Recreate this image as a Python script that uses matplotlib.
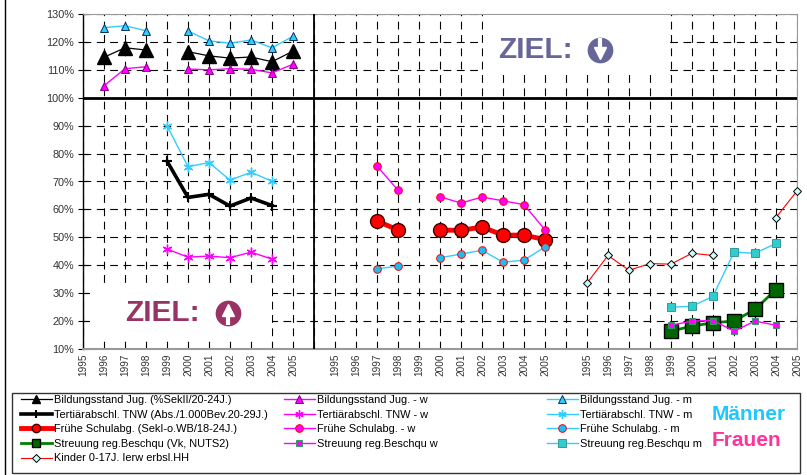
import numpy as np
import matplotlib

matplotlib.use("Agg")
import matplotlib.pyplot as plt
from matplotlib.lines import Line2D
from matplotlib.patches import Rectangle

plt.rcParams["font.family"] = ["Liberation Sans", "DejaVu Sans"]

nan = np.nan

# ---------------------------------------------------------------------------
# data (percent); three blocks of 1995..2005 side by side
# ---------------------------------------------------------------------------
YEARS = list(range(1995, 2006))
BLOCK_START = [0, 12, 24]          # category index of 1995 in each block
N_CAT = 35

# block 1 – Bildungsstand / Tertiärabschluss
bildung = [nan, 114.5, 117.9, 117.1, nan, 116.5, 115.0, 114.2, 114.6, 112.9, 116.7]
bildung_w = [nan, 104.3, 110.4, 111.1, nan, 110.3, 110.0, 110.4, 110.2, 108.9, 112.0]
bildung_m = [nan, 125.1, 125.8, 124.0, nan, 123.9, 120.4, 119.5, 120.7, 117.9, 122.0]
tertiaer = [nan, nan, nan, nan, 77.3, 64.3, 65.4, 61.2, 64.1, 61.4, nan]
tertiaer_w = [nan, nan, nan, nan, 45.8, 42.9, 43.3, 42.7, 44.7, 42.2, nan]
tertiaer_m = [nan, nan, nan, nan, 90.0, 75.3, 76.8, 70.5, 73.3, 70.1, nan]

# block 2 – frühe Schulabgänger
frueh = [nan, nan, 55.9, 52.6, nan, 52.6, 52.5, 53.7, 50.8, 50.8, 49.2]
frueh_w = [nan, nan, 75.5, 66.9, nan, 64.5, 62.3, 64.4, 63.1, 61.7, 52.7]
frueh_m = [nan, nan, 38.7, 39.7, nan, 42.7, 44.0, 45.4, 41.1, 41.8, 46.6]

# block 3 – Streuung / Kinder
kinder = [33.6, 43.5, 38.2, 40.6, 40.4, 44.3, 43.5, nan, nan, 57.1, 66.6]
streuung = [nan, nan, nan, nan, 16.4, 18.2, 19.4, 20.0, 24.2, 31.3, nan]
streuung_w = [nan, nan, nan, nan, 18.5, 20.0, 20.2, 16.4, 20.0, 18.5, nan]
streuung_m = [nan, nan, nan, nan, 25.0, 25.3, 28.9, 44.7, 44.3, 47.8, nan]

Y_TICKS = list(range(10, 140, 10))

BLACK = "#000000"
MAG = "#FF00FF"
CYAN = "#33CCFF"
RED = "#FF0000"
GREEN = "#008000"
STAR = (6, 2, 0)

# (values, block, legend label, line style kwargs)
SERIES = [
    (bildung, 0, "Bildungsstand Jug. (%SekII/20-24J.)",
     dict(color=BLACK, lw=0.9, marker="^", ms=10, mfc=BLACK, mec=BLACK)),
    (tertiaer, 0, "Tertiärabschl. TNW (Abs./1.000Bev.20-29J.)",
     dict(color=BLACK, lw=2.6, marker="+", ms=7, mew=1.5, mec=BLACK)),
    (frueh, 1, "Frühe Schulabg. (SekI-o.WB/18-24J.)",
     dict(color=RED, lw=3.5, marker="o", ms=10, mfc=RED, mec="#400000")),
    (streuung, 2, "Streuung reg.Beschqu (Vk, NUTS2)",
     dict(color=GREEN, lw=2, marker="s", ms=10, mfc="#006600", mec=BLACK)),
    (kinder, 2, "Kinder 0-17J. Ierw erbsl.HH",
     dict(color=RED, lw=0.8, marker="D", ms=4, mfc="#CCFFFF", mec=BLACK, mew=0.7)),
    (bildung_w, 0, "Bildungsstand Jug. - w",
     dict(color=MAG, lw=1, marker="^", ms=5.5, mfc=MAG, mec="#800080", mew=0.7)),
    (tertiaer_w, 0, "Tertiärabschl. TNW - w",
     dict(color=MAG, lw=1, marker=STAR, ms=7, mec=MAG, mew=1)),
    (frueh_w, 1, "Frühe Schulabg. - w",
     dict(color=MAG, lw=1, marker="o", ms=5.5, mfc=MAG, mec=RED, mew=0.7)),
    (streuung_w, 2, "Streuung reg.Beschqu w",
     dict(color=MAG, lw=1, marker="s", ms=5, mfc=MAG, mec="#339966", mew=0.7)),
    (bildung_m, 0, "Bildungsstand Jug. - m",
     dict(color=CYAN, lw=1, marker="^", ms=5.5, mfc=CYAN, mec="#003366", mew=0.7)),
    (tertiaer_m, 0, "Tertiärabschl. TNW - m",
     dict(color=CYAN, lw=1, marker=STAR, ms=7, mec=CYAN, mew=1)),
    (frueh_m, 1, "Frühe Schulabg. - m",
     dict(color=CYAN, lw=1, marker="o", ms=5.5, mfc="#22BBEE", mec=RED, mew=0.7)),
    (streuung_m, 2, "Streuung reg.Beschqu m",
     dict(color=CYAN, lw=1, marker="s", ms=6, mfc="#33CCCC", mec="#339999", mew=0.7)),
]

# draw order as in the original (green squares under the thin series)
DRAW_ORDER = [0, 5, 9, 1, 6, 10, 2, 7, 11, 3, 8, 12, 4]

W, H = 807, 475
fig = plt.figure(figsize=(W / 100, H / 100), dpi=100, facecolor="white")


def fx(px):
    return px / W


def fy(py):
    return 1 - py / H


left, right, top, bottom = 83, 797, 14, 349
ax = fig.add_axes([fx(left), fy(bottom), fx(right - left), (bottom - top) / H])

xs_block = np.arange(len(YEARS))
for i in DRAW_ORDER:
    vals, blk, label, style = SERIES[i]
    ax.plot(BLOCK_START[blk] + xs_block, vals, zorder=4, clip_on=False, **style)

ax.set_xlim(0, N_CAT - 1)
ax.set_ylim(10, 130)

xticks = np.arange(N_CAT)
xlabels = [""] * N_CAT
for start in BLOCK_START:
    for k, yr in enumerate(YEARS):
        xlabels[start + k] = str(yr)
ax.set_xticks(xticks)
ax.set_xticklabels(xlabels, rotation=90, fontsize=7.2, color="#333333")
ax.set_yticks(Y_TICKS)
ax.set_yticklabels([f"{v}%" for v in Y_TICKS], fontsize=7.8, color="#333333")
ax.tick_params(axis="x", length=0, pad=3)
ax.tick_params(axis="y", direction="inout", length=7, width=0.8, pad=3)

ax.set_axisbelow(True)
ax.grid(True, color=BLACK, lw=0.8, ls=(0, (7, 5)))
ax.axhline(100, color=BLACK, lw=2, zorder=3)
ax.axvline(11, color=BLACK, lw=1.3, zorder=3)

for side in ("top", "right", "bottom"):
    ax.spines[side].set_color("#999999")
ax.spines["bottom"].set_linewidth(1.5)
ax.spines["left"].set_color(BLACK)
ax.spines["left"].set_linewidth(1)

# ---------------------------------------------------------------------------
# "ZIEL" boxes (white patches hide the grid)
# ---------------------------------------------------------------------------
def white_box(x0, y0, x1, y1):
    fig.add_artist(Rectangle((fx(x0), fy(y1)), fx(x1 - x0), (y1 - y0) / H,
                             transform=fig.transFigure, facecolor="white",
                             edgecolor="none", zorder=2))


def ziel(x_text, cx, cy, color, up):
    fig.text(fx(x_text), fy(cy), "ZIEL:", fontsize=21.5, fontweight="bold",
             color=color, ha="left", va="center", zorder=3)
    fig.add_artist(Line2D([fx(cx)], [fy(cy)], marker="o", ms=17.5, color=color,
                          mec=color, transform=fig.transFigure, zorder=3))
    sgn = -1 if up else 1
    fig.add_artist(Line2D([fx(cx), fx(cx)], [fy(cy), fy(cy - sgn * 12)],
                          color="white", lw=3, solid_capstyle="butt",
                          transform=fig.transFigure, zorder=4))
    fig.add_artist(Line2D([fx(cx)], [fy(cy + sgn * 3)], marker="^" if up else "v",
                          ms=8, color="white", mec="white",
                          transform=fig.transFigure, zorder=4))


white_box(90, 283, 272, 337)
white_box(483, 15.5, 667, 72)
ziel(125, 228, 313, "#993366", up=True)
ziel(498, 600, 50, "#666699", up=False)

# ---------------------------------------------------------------------------
# legend: three columns inside one frame + Männer / Frauen
# ---------------------------------------------------------------------------
fig.add_artist(Rectangle((fx(12), fy(473)), fx(800 - 12), (473 - 393) / H,
                         transform=fig.transFigure, facecolor="white",
                         edgecolor="#333333", lw=1, zorder=1))
fig.add_artist(Line2D([fx(5), fx(5)], [0, 1], color=BLACK, lw=1,
                      transform=fig.transFigure))

columns = [(21, SERIES[0:5]), (284, SERIES[5:9]), (547, SERIES[9:13])]
for x0, entries in columns:
    handles = []
    for vals, blk, label, style in entries:
        st = dict(style)
        st["ms"] = min(st.get("ms", 5), 6)
        handles.append(Line2D([], [], **st))
    leg = fig.legend(handles, [e[2] for e in entries], loc="upper left",
                     bbox_to_anchor=(fx(x0), fy(395)), frameon=False,
                     fontsize=7.9, handlelength=2.8, handletextpad=0.2,
                     labelspacing=0.42, borderpad=0, borderaxespad=0)
    leg.set_zorder(3)

fig.text(fx(712), fy(415), "Männer", fontsize=15, fontweight="bold",
         color="#1EC8FF", ha="left", va="center", zorder=3)
fig.text(fx(712), fy(441), "Frauen", fontsize=15, fontweight="bold",
         color="#FF3399", ha="left", va="center", zorder=3)

fig.savefig("out.png", dpi=100, facecolor="white")
